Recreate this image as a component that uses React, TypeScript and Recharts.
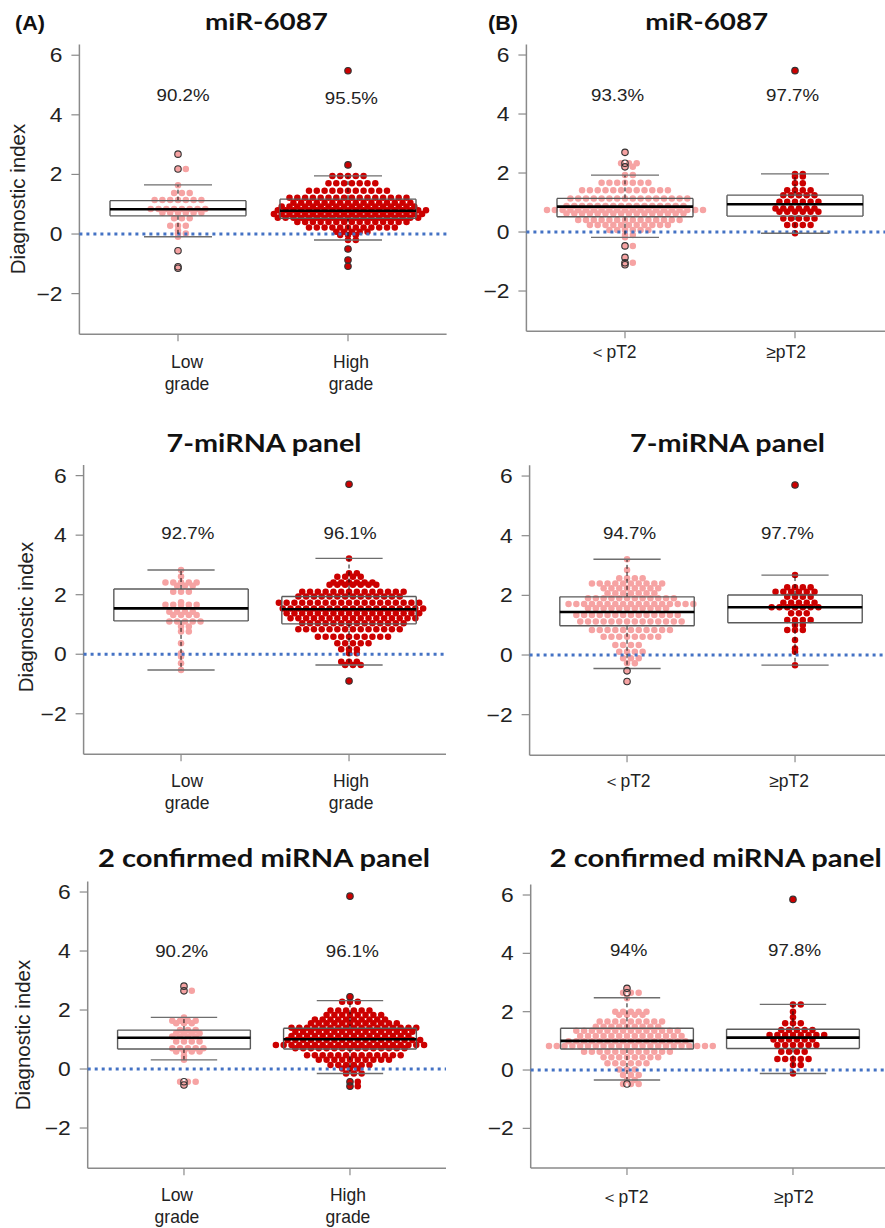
import React from 'react';
import { ComposedChart, Scatter, XAxis, YAxis, ReferenceLine } from 'recharts';

type Row = [number, number]; // [diagnostic index, number of samples drawn at that level]
type Box5 = [number, number, number, number, number]; // [lower whisker, Q1, median, Q3, upper whisker]

// ---------------- data ----------------
const categoryPositions = [1, 2];
const gradeTickLabels = [['Low', 'grade'], ['High', 'grade']];
const stageTickLabels = [['＜pT2'], ['≥pT2']];
const yTicks = [-2, 0, 2, 4, 6];
const panelTitles = ['miR-6087', 'miR-6087', '7-miRNA panel', '7-miRNA panel', '2 confirmed miRNA panel', '2 confirmed miRNA panel'];
const panelTags = ['(A)', '(B)', '', '', '', ''];
const yAxisTitle = 'Diagnostic index';

// miR-6087, grade
const mir6087Low: Row[] = [[2.68,1],[2.18,2],[1.64,1],[1.38,3],[1.14,7],[0.84,8],[0.71,6],[0.53,3],[0.28,3],[0.13,1],[0.02,2],[-0.09,1],[-0.56,1],[-1.10,1],[-1.15,1]];
const mir6087High: Row[] = [[5.48,1],[2.32,1],[1.95,5],[1.70,7],[1.45,11],[1.22,16],[1.05,16],[0.92,18],[0.80,20],[0.67,20],[0.55,19],[0.40,15],[0.22,12],[0.08,5],[-0.03,3],[-0.20,2],[-0.50,1],[-0.87,1],[-1.08,1]];
const mir6087LowBox: Box5 = [-0.09, 0.61, 0.83, 1.12, 1.65];
const mir6087HighBox: Box5 = [-0.20, 0.53, 0.78, 1.17, 1.95];
const mir6087GradePct = ['90.2%', '95.5%'];

// miR-6087, stage
const mir6087LtPT2: Row[] = [[2.70,1],[2.33,3],[2.21,2],[1.93,2],[1.67,7],[1.42,12],[1.14,16],[0.88,16],[0.75,21],[0.63,16],[0.41,14],[0.24,11],[0.07,6],[-0.10,2],[-0.18,1],[-0.47,2],[-0.86,1],[-1.04,2],[-1.11,1]];
const mir6087GePT2: Row[] = [[5.47,1],[1.97,2],[1.88,2],[1.65,2],[1.42,4],[1.25,5],[1.03,6],[0.80,6],[0.69,6],[0.46,5],[0.24,4],[-0.04,1]];
const mir6087LtPT2Box: Box5 = [-0.18, 0.52, 0.86, 1.14, 1.93];
const mir6087GePT2Box: Box5 = [-0.04, 0.54, 0.94, 1.25, 1.97];
const mir6087StagePct = ['93.3%', '97.7%'];

// 7-miRNA panel, grade
const panel7Low: Row[] = [[2.83,1],[2.61,1],[2.41,5],[2.30,3],[2.10,3],[1.75,1],[1.66,5],[1.43,4],[1.32,4],[1.10,5],[0.93,2],[0.76,2],[0.37,1],[0.03,1],[-0.08,1],[-0.30,1],[-0.53,1]];
const panel7High: Row[] = [[5.71,1],[3.22,1],[2.72,2],[2.60,4],[2.41,6],[2.33,7],[2.10,14],[1.94,14],[1.73,19],[1.54,19],[1.38,18],[1.21,17],[1.04,14],[0.84,14],[0.59,10],[0.37,5],[0.17,3],[0.03,2],[-0.25,3],[-0.36,3],[-0.90,1]];
const panel7LowBox: Box5 = [-0.53, 1.12, 1.54, 2.19, 2.83];
const panel7HighBox: Box5 = [-0.36, 1.02, 1.51, 1.94, 3.22];
const panel7GradePct = ['92.7%', '96.1%'];

// 7-miRNA panel, stage
const panel7LtPT2: Row[] = [[3.21,1],[2.85,1],[2.57,4],[2.40,10],[2.24,8],[2.07,7],[1.90,12],[1.71,17],[1.57,11],[1.34,14],[1.12,14],[0.84,11],[0.61,8],[0.34,4],[0.11,4],[-0.11,3],[-0.28,2],[-0.53,1],[-0.89,1]];
const panel7GePT2: Row[] = [[5.70,1],[2.68,1],[2.27,4],[2.12,6],[1.95,4],[1.75,5],[1.60,7],[1.40,3],[1.17,4],[1.01,2],[0.84,3],[0.50,1],[0.22,1],[0.11,1],[-0.34,1]];
const panel7LtPT2Box: Box5 = [-0.45, 0.98, 1.44, 1.95, 3.21];
const panel7GePT2Box: Box5 = [-0.34, 1.08, 1.60, 2.01, 2.68];
const panel7StagePct = ['94.7%', '97.7%'];

// 2 confirmed miRNA panel, grade
const panel2Low: Row[] = [[2.81,1],[2.65,2],[1.75,1],[1.64,4],[1.55,3],[1.32,3],[1.21,4],[1.10,4],[0.93,4],[0.70,5],[0.59,4],[0.44,1],[0.31,1],[-0.43,3],[-0.54,1]];
const panel2High: Row[] = [[5.86,1],[2.45,1],[2.28,3],[1.98,6],[1.83,8],[1.68,10],[1.55,12],[1.40,17],[1.26,16],[1.12,16],[0.98,18],[0.81,20],[0.70,15],[0.47,13],[0.31,10],[0.14,6],[0.02,3],[-0.15,3],[-0.43,2],[-0.58,2]];
const panel2LowBox: Box5 = [0.31, 0.68, 1.06, 1.32, 1.75];
const panel2HighBox: Box5 = [-0.15, 0.68, 1.01, 1.38, 2.32];
const panel2GradePct = ['90.2%', '96.1%'];

// 2 confirmed miRNA panel, stage
const panel2LtPT2: Row[] = [[2.80,1],[2.65,3],[2.46,1],[2.00,5],[1.89,4],[1.66,9],[1.48,9],[1.35,14],[1.17,14],[0.99,16],[0.82,22],[0.63,12],[0.44,8],[0.23,6],[0.02,3],[-0.17,3],[-0.34,2],[-0.48,3]];
const panel2GePT2: Row[] = [[5.85,1],[2.25,2],[2.00,1],[1.81,1],[1.60,3],[1.37,5],[1.20,8],[1.05,6],[0.86,6],[0.63,4],[0.38,5],[0.17,2],[-0.12,1]];
const panel2LtPT2Box: Box5 = [-0.34, 0.72, 1.00, 1.43, 2.48];
const panel2GePT2Box: Box5 = [-0.12, 0.74, 1.11, 1.40, 2.25];
const panel2StagePct = ['94%', '97.8%'];

// ---------------- styles / layout ----------------
const FONT = 'Arial, "Liberation Sans", Helvetica, sans-serif';
const TITLE_FONT = 'Lato, "Open Sans", sans-serif';
const PINK = '#F6A3A3';
const RED = '#CC0000';
const AXIS = '#8a8a8a';
const BOX = '#5a5a5a';
const CAP = '#6e6e6e';
const BLUE = '#4472C4';
const X_DOMAIN: [number, number] = [0.42, 2.58];
const Y_DOMAIN: [number, number] = [-3.36, 6.36];
const DOT_R = 3.25;
const DOT_STEP = 7.8;
const STRETCH = 1.17; // the source figure's text is horizontally stretched

const panels = [
  { ticks: gradeTickLabels, groups: [mir6087Low, mir6087High], boxes: [mir6087LowBox, mir6087HighBox], pct: mir6087GradePct },
  { ticks: stageTickLabels, groups: [mir6087LtPT2, mir6087GePT2], boxes: [mir6087LtPT2Box, mir6087GePT2Box], pct: mir6087StagePct },
  { ticks: gradeTickLabels, groups: [panel7Low, panel7High], boxes: [panel7LowBox, panel7HighBox], pct: panel7GradePct },
  { ticks: stageTickLabels, groups: [panel7LtPT2, panel7GePT2], boxes: [panel7LtPT2Box, panel7GePT2Box], pct: panel7StagePct },
  { ticks: gradeTickLabels, groups: [panel2Low, panel2High], boxes: [panel2LowBox, panel2HighBox], pct: panel2GradePct },
  { ticks: stageTickLabels, groups: [panel2LtPT2, panel2GePT2], boxes: [panel2LtPT2Box, panel2GePT2Box], pct: panel2StagePct },
];

const panelLayout = [
  { ox: 0, oy: 0, H: 410, L: 79.4, T: 44.5, k: 170, u: 29.8, title: [266.5, 30, 123, 23.5], tag: [15, 30], yLab: [17.5, 199], xShift: [9, 3], xDy: 28, pctPos: [[1.03, 4.66], [2.02, 4.56]] },
  { ox: 450, oy: 0, H: 410, L: 526.4, T: 44.4, k: 170, u: 29.5, title: [706.7, 30, 123, 23.5], tag: [488, 30], yLab: null, xShift: [-12, -9], xDy: 21, pctPos: [[0.956, 4.64], [1.986, 4.64]] },
  { ox: 0, oy: 420, H: 415, L: 83.6, T: 464.9, k: 168, u: 29.77, title: [264, 452, 195, 25.5], tag: null, yLab: [25, 617], xShift: [6, 2], xDy: 27, pctPos: [[1.04, 4.04], [2.006, 4.04]] },
  { ox: 450, oy: 420, H: 415, L: 529.6, T: 465.3, k: 168, u: 29.83, title: [727.5, 452, 195, 25.5], tag: null, yLab: null, xShift: [0, -6], xDy: 26, pctPos: [[1.015, 4.06], [1.955, 4.06]] },
  { ox: 0, oy: 840, H: 388, L: 87.7, T: 881.4, k: 166, u: 29.5, title: [264, 867, 332, 25.5], tag: null, yLab: [22.5, 1035], xShift: [-7, -2], xDy: 27, pctPos: [[0.986, 4.0], [2.014, 4.0]] },
  { ox: 450, oy: 840, H: 388, L: 530.7, T: 884.5, k: 166, u: 29.17, title: [715.8, 867, 332, 25.5], tag: null, yLab: null, xShift: [-2, 1], xDy: 29, pctPos: [[1.01, 4.11], [2.01, 4.11]] },
];

// beeswarm-style layout: each row of equal values is spread sideways around the
// category centre; consecutive rows alternate by half a step (hexagonal packing)
function swarm(rows: Row[], cat: number, dx: number) {
  const pts: { x: number; y: number }[] = [];
  rows.forEach(([v, n], r) => {
    let shift = 0;
    if (n >= 3) {
      const phase = ((n - 1) / 2) % 1;
      const want = (r % 2) * 0.5;
      if (Math.abs(phase - want) > 0.01) shift = 0.5;
    }
    for (let i = 0; i < n; i++) {
      const off = n <= 2 ? i : i - (n - 1) / 2 + shift;
      pts.push({ x: cat + off * dx, y: v });
    }
  });
  return pts;
}

function outliers(rows: Row[], box: Box5, cat: number) {
  return rows.filter(([v]) => v > box[4] + 1e-9 || v < box[0] - 1e-9).map(([v]) => ({ x: cat, y: v }));
}

const dotShape = (fill: string) => (p: any) => <circle cx={p.cx} cy={p.cy} r={DOT_R} fill={fill} />;
const ringShape = (p: any) => <circle cx={p.cx} cy={p.cy} r={DOT_R} fill="none" stroke="#333" strokeWidth={1.1} />;
const pctShape = (p: any) => (
  <text transform={`translate(${p.cx},${p.cy}) scale(${STRETCH},1)`} x={0} y={0} textAnchor="middle" dominantBaseline="central" fontSize={16} fontFamily={FONT} fill="#222">
    {p.payload.label}
  </text>
);

const fmtY = (v: number) => (v < 0 ? '\u2212' + Math.abs(v) : String(v));

const yTick = (p: any) => (
  <text transform={`translate(${p.x},${p.y}) scale(${STRETCH},1)`} x={0} y={0} textAnchor="end" dominantBaseline="central" fontSize={19.5} fontFamily={FONT} fill="#222">
    {fmtY(p.payload.value)}
  </text>
);

function Panel({ idx }: { idx: number }) {
  const d = panels[idx];
  const lay = panelLayout[idx];
  const Wp = (X_DOMAIN[1] - X_DOMAIN[0]) * lay.k;
  const Hp = (Y_DOMAIN[1] - Y_DOMAIN[0]) * lay.u;
  const mt = lay.T - lay.oy;
  const yw = lay.L - lay.ox;
  const xh = lay.H - mt - Hp;
  const W = yw + Wp;
  const axisY = mt + Hp;
  const dx = DOT_STEP / lay.k;
  const colors = [PINK, RED];

  const xTick = (p: any) => {
    const i = categoryPositions.indexOf(p.payload.value);
    const lines = d.ticks[i] || [];
    return (
      <g>
        {lines.map((t: string, j: number) => (
          <text key={j} x={p.x + lay.xShift[i]} y={axisY + lay.xDy + j * 21.5} textAnchor="middle" dominantBaseline="central" fontSize={17.5} fontFamily={FONT} fill="#222">
            {t}
          </text>
        ))}
      </g>
    );
  };

  const boxLines: any[] = [];
  d.boxes.forEach((b, i) => {
    const c = categoryPositions[i];
    const [lo, q1, med, q3, hi] = b;
    const hw = 0.4;
    const cw = 0.2;
    const seg = (key: string, x1: number, y1: number, x2: number, y2: number, stroke: string, sw: number, dash?: string) =>
      boxLines.push(
        <ReferenceLine key={key} segment={[{ x: x1, y: y1 }, { x: x2, y: y2 }]} stroke={stroke} strokeWidth={sw} strokeDasharray={dash} ifOverflow="visible" zIndex={700} />
      );
    seg(`wu${i}`, c, q3, c, hi, '#111', 1, '4 3');
    seg(`wl${i}`, c, q1, c, lo, '#111', 1, '4 3');
    seg(`cu${i}`, c - cw, hi, c + cw, hi, CAP, 1.4);
    seg(`cl${i}`, c - cw, lo, c + cw, lo, CAP, 1.4);
    seg(`bt${i}`, c - hw, q3, c + hw, q3, BOX, 1.4);
    seg(`bb${i}`, c - hw, q1, c + hw, q1, BOX, 1.4);
    seg(`bl${i}`, c - hw, q1, c - hw, q3, BOX, 1.4);
    seg(`br${i}`, c + hw, q1, c + hw, q3, BOX, 1.4);
    seg(`md${i}`, c - hw, med, c + hw, med, '#000', 2.6);
  });

  const rings = d.groups.flatMap((g, i) => outliers(g, d.boxes[i], categoryPositions[i]));
  const pctData = d.pct.map((label, i) => ({ x: lay.pctPos[i][0], y: lay.pctPos[i][1], label }));

  return (
    <div style={{ position: 'absolute', left: lay.ox, top: lay.oy }}>
      <ComposedChart width={W} height={lay.H} margin={{ top: mt, right: 0, bottom: 0, left: 0 }}>
        <XAxis
          type="number"
          dataKey="x"
          domain={X_DOMAIN}
          ticks={categoryPositions}
          interval={0}
          allowDataOverflow
          height={xh}
          tickSize={7}
          axisLine={{ stroke: AXIS, strokeWidth: 1.5 }}
          tickLine={{ stroke: AXIS, strokeWidth: 1.2 }}
          tick={xTick}
        />
        <YAxis
          type="number"
          dataKey="y"
          domain={Y_DOMAIN}
          ticks={yTicks}
          interval={0}
          allowDataOverflow
          width={yw}
          tickSize={8}
          tickMargin={9}
          axisLine={{ stroke: AXIS, strokeWidth: 1.5 }}
          tickLine={{ stroke: AXIS, strokeWidth: 1.2 }}
          tick={yTick}
        />
        {d.groups.map((g, i) => (
          <Scatter key={`s${i}`} data={swarm(g, categoryPositions[i], dx)} dataKey="y" shape={dotShape(colors[i])} isAnimationActive={false} />
        ))}
        <ReferenceLine y={0} stroke={BLUE} strokeWidth={3} strokeDasharray="3 4" zIndex={650} />
        {boxLines}
        <Scatter key="rings" data={rings} dataKey="y" shape={ringShape} isAnimationActive={false} zIndex={800} />
        <Scatter key="pct" data={pctData} dataKey="y" shape={pctShape} isAnimationActive={false} zIndex={800} />
      </ComposedChart>
    </div>
  );
}

export default function App() {
  return (
    <div style={{ position: 'absolute', left: 0, top: 0, width: 885, height: 1228, overflow: 'hidden', background: '#fff' }}>
      {panelLayout.map((lay, i) => (
        <Panel key={i} idx={i} />
      ))}
      <svg width={885} height={1228} style={{ position: 'absolute', left: 0, top: 0, pointerEvents: 'none' }}>
        {panelLayout.map((lay, i) => (
          <g key={i}>
            <text
              x={lay.title[0]}
              y={lay.title[1]}
              textAnchor="middle"
              fontFamily={TITLE_FONT}
              fontWeight={700}
              fontSize={lay.title[3]}
              fill="#111"
              textLength={lay.title[2]}
              lengthAdjust="spacingAndGlyphs"
            >
              {panelTitles[i]}
            </text>
            {lay.tag && (
              <text x={lay.tag[0]} y={lay.tag[1]} fontFamily={FONT} fontWeight={700} fontSize={20} fill="#111" textLength={30} lengthAdjust="spacingAndGlyphs">
                {panelTags[i]}
              </text>
            )}
            {lay.yLab && (
              <text
                transform={`translate(${lay.yLab[0]},${lay.yLab[1]}) rotate(-90)`}
                x={0}
                y={0}
                textAnchor="middle"
                dominantBaseline="central"
                fontFamily={FONT}
                fontSize={20.5}
                fill="#222"
              >
                {yAxisTitle}
              </text>
            )}
          </g>
        ))}
      </svg>
    </div>
  );
}
